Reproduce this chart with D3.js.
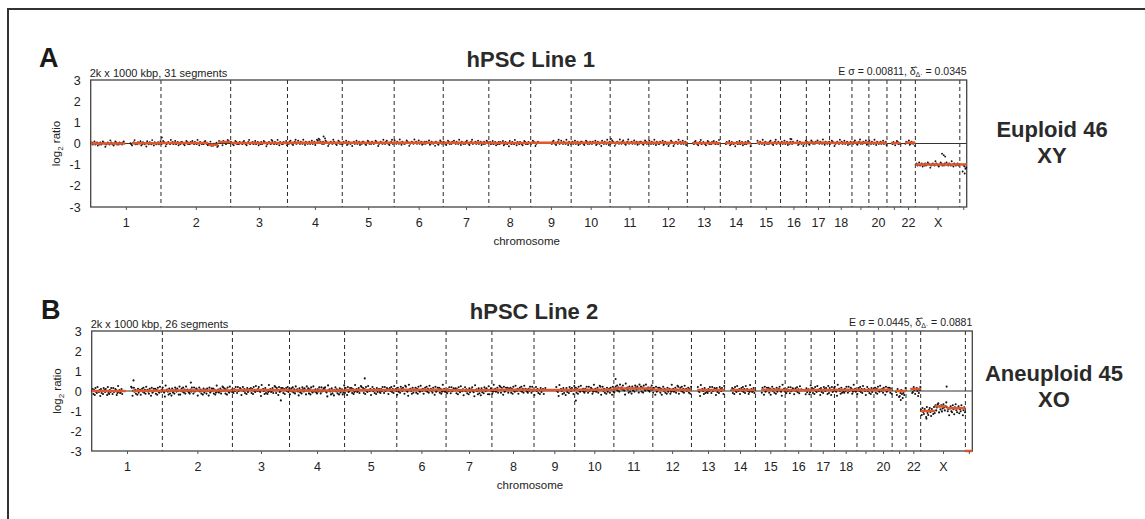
<!DOCTYPE html>
<html>
<head>
<meta charset="utf-8">
<script src="https://cdn.jsdelivr.net/npm/d3@7"></script>
<style>
  body { margin: 0; background: #fff; }
  svg { display: block; font-family: "Liberation Sans", Arial, sans-serif; }
</style>
</head>
<body>
<script>
const width = 1145, height = 519;

// chromosome sizes in Mb, as laid out on the x axis
const chromNames = ['1','2','3','4','5','6','7','8','9','10','11','12','13','14','15','16','17','18','19','20','21','22','X','Y'];
const chromSizes = [245,243,198,191,181,171,159,146,141,136,135,134,115,107,103,90,81,78,59,63,48,51,155,24];
const chromLabels = ['1','2','3','4','5','6','7','8','9','10','11','12','13','14','15','16','17','18','','20','','22','X',''];
const yTicks = [3,2,1,0,-1,-2,-3];

// segments: [chrom (1..24), start Mb, end Mb, log2 ratio]
const segmentsA = [
  [1,0,121,0.0],[1,143,245,0.01],
  [2,0,165,0.02],[2,165,200,-0.06],[2,200,243,0.07],
  [3,0,198,0.02],[4,0,191,0.03],[5,0,181,0.03],[6,0,171,0.04],[7,0,159,0.03],
  [8,0,146,0.02],[9,0,141,0.03],[10,0,136,0.03],[11,0,135,0.04],[12,0,134,0.03],
  [13,18,115,0.02],[14,17,107,0.02],[15,20,103,0.03],[16,0,90,0.03],[17,0,81,0.04],
  [18,0,78,0.03],[19,0,59,0.04],[20,0,63,0.03],[21,14,48,0.02],[22,16,51,0.04],
  [23,0,155,-0.99],[24,0,24,-0.99]
];
const segmentsB = [
  [1,0,118,0.0],[1,142,245,0.01],
  [2,0,243,0.02],[3,0,198,0.05],[4,0,191,0.03],[5,0,181,0.05],[6,0,171,0.06],
  [7,0,159,0.04],[8,0,146,0.06],[9,0,141,0.05],[10,0,136,0.06],[11,0,135,0.12],
  [12,0,134,0.06],[13,20,115,0.05],[14,22,107,0.05],[15,20,103,0.06],[16,0,90,0.04],
  [17,0,81,0.05],[18,0,78,0.06],[19,0,59,0.05],[20,0,63,0.06],[21,12,48,0.0],
  [22,16,51,0.1],
  [23,0,50,-1.0],[23,50,90,-0.77],[23,90,155,-0.86],[24,0,24,-3.0]
];

// binned log2 ratios, one letter per bin, read as offset from the segment: 'k' = 0, each letter step = 0.05; ' ' = no data
const dotsA = [
  'kljkmjklikjljkmlkhjklkjnlkjikmljkjlkkjlm       kjiklnjkjlkkmijlkjkhmkjlkjnkilkjkljkm',
  'jkmlkhjklkjnkljkmjklikjllkjikmljkjlkmkjlkjnkilkjkjlmkjiklnjkjlkkmijlkjkhlkjikmljk',
  'lkjikmljkjlkkjlmkjiklnjkkljkmjklikjljkmlkhjklkjnmkjlkjnkilkjjlkkmi',
  'kjlmkjiklnjkmkjlkjnkilkjkljkmjkliknmonlkjljkmlkhjklkjnlkjikmljkj',
  'jlkkmijlkjkhkljkmjklikjllkjikmljkjlkjkmlkhjklkjnkjlmkjiklnjk',
  'mkjlkjnkilkjjkmlkhjklkjnkljkmjklikjljlkkmijlkjkhlkjikmljk',
  'lkjikmljkjlkmkjlkjnkilkjkjlmkjiklnjkkljkmjklikjljkmlk',
  'kljkmjklikjljlkkmijlkjkhmkjlkjnkilkjlkjikmljkjlkk',
  'jkmlkhjklk             kjlmkjiklnjkmkjlkjnkilkj',
  'kljkmjklikjllkjikmljkjlkjlkkmijlkjkhmkjlkjnkil',
  'jkmlkhjklkjnkjlmkjiklnjkkljkmjklikjllkjikmljkj',
  'mkjlkjnkilkjjlkkmijlkjkhjkmlkhjklkjnkljkmjklik',
  '      kjlmkjiklnjklkjikmljkjlkmkjlkjnk',
  '      jlkkmijlkjkhkljkmjklikjljkmlkh',
  '       mkjlkjnkilkjkjlmkjiklnjklkj',
  'kljkmjklikjlkjl   kmijlkjkhjkm',
  'lkjikmljkjlkmkjlkjnkilkjkl',
  'jkmlkhjklkjnkljkmjklikjlk',
  'kjlmkjiklnjkjlkkmijl',
  'mkjlkjnkilkjkljkmjkli',
  '     kjlkikmljkj',
  '     jlkkmijlkjkh',
  'kljkmjklikjljkmlkhjklkjnlkjikmljkjlkmkjlkjnkilkjkljk',
  '    jigh'
];
const dotsB = [
  'kmhlgnjiokjlfmikhnljmkgoihljnkhnjkmlgipjlijmhk           onfknjlhkgmiklgkmjnilhokljhmkfnijmkmhlgnjiokjl',
  'njiepkljgmhkfmikhnljmkgogkmjnilhokljihljnkhnjkmlfknjlhkgmiklhmkfnijmkmhlgipjlijmhkonkmhlgnjiokjl',
  'ihljnkhnjkmlfknjlhkgmiklkmhlgnjiokjlnjiepkljgmhkgipjlijmhkonhmkfnijmkmhlgkmjnil',
  'gkmjnilhokljfmikhnljmkgokmhlgnjiokjlihljnkhnjkmlnjiepkljgmhkfknjlhkgmiklgip',
  'hmkfnijmkmhlgipjlijmhkonkmhlgnjiokjlfknjlhkgmiklihljnkhnjkmlgkmjnilhoklj',
  'fmikhnljmkgonjiepkljgmhkkmhlgnjiokjlgkmjnilhokljhmkfnijmkmhlgipjlij',
  'ihljnkhnjkmlkmhlgnjiokjlfknjlhkgmiklnjiepkljgmhkfmikhnljmkgogkmj',
  'gipjlijmhkonhmkfnijmkmhlkmhlgnjiokjlgkmjnilhokljihljnkhnjk',
  'fknjlhkgmiklgkm             njiepkljgmhkfmikhnljmkgo',
  'kmhlgnjiokjlihljnkhnjkmlgipjlijmhkonfknjlhkgmiklhmkfni',
  'gkmjnilhokljnjiepkljgmhkfmikhnljmkgokmhlgnjiokjlihljnk',
  'hmkfnijmkmhlfknjlhkgmiklgipjlijmhkongkmjnilhokljkmhlgn',
  '        njiepkljgmhkihljnkhnjkmlfmikhnljmkgo',
  '         kmhlgnjiokjlgkmjnilhokljgipjlijmhk',
  '        hmkfnijmkmhlfknjlhkgmiklnjiepklj',
  'ihljnkhnjkmlgkmjnilhokl    kgmiklgip',
  'kmhlgnjiokjlfmikhnljmkgohmkfnijm',
  'njiepkljgmhkihljnkhnjkmlgipjlij',
  'gkmjnilhokljfknjlhkgmikl',
  'kmhlgnjiokjlhmkfnijmkmhlg',
  '     jgmkefilhdigkn',
  '       kghmjfklidgjm',
  'lgnjhmkeoiglnjfmkhoilgjmnekhlfimjgkolhjdkmhgnjeloigkmfjhnkdilg',
  ''
];
// single points standing apart from the band: [chrom, Mb, log2 ratio]
const extraA = [[2,3,0.28],[4,126,0.33],[4,131,0.24],[11,3,0.22],[16,34,0.22],[16,38,0.2],
  [23,93,-0.48],[23,99,-0.55],[23,104,-0.62],[24,10,-1.32],[24,17,-1.42]];
const extraB = [[1,145,0.53],[2,99,0.42],[3,168,-0.47],[5,70,0.63],[10,4,-0.48],[11,6,0.6],
  [21,30,-0.45],[23,90,0.22],[23,20,-1.38]];

const panels = [
  {letter: 'A', title: 'hPSC Line 1', info: '2k x 1000 kbp, 31 segments', sigma: '0.00811', delta: '0.0345',
   call: ['Euploid 46', 'XY'], segments: segmentsA, dots: dotsA, extra: extraA,
   left: 90.7, right: 966.7, top: 80, bottom: 207, titleY: 67, letterX: 39, callX: 1052, callY: 136.7, dotR: 0.95},
  {letter: 'B', title: 'hPSC Line 2', info: '2k x 1000 kbp, 26 segments', sigma: '0.0445', delta: '0.0881',
   call: ['Aneuploid 45', 'XO'], segments: segmentsB, dots: dotsB, extra: extraB,
   left: 91.7, right: 972.3, top: 331, bottom: 451, titleY: 319, letterX: 41, callX: 1054, callY: 380.7, dotR: 1.05}
];

const offsets = [0, ...d3.cumsum(chromSizes)];
const total = offsets[offsets.length - 1];

const svg = d3.select('body').append('svg').attr('width', width).attr('height', height);

// outer box (only top and left edges in view)
svg.append('path').attr('d', `M8,${height} V9 H${width}`)
  .attr('fill', 'none').attr('stroke', '#333').attr('stroke-width', 2);

function segValue(segs, c, pos) {
  let best = null, bd = Infinity;
  segs.filter(s => s[0] === c).forEach(s => {
    const d = pos < s[1] ? s[1] - pos : pos > s[2] ? pos - s[2] : 0;
    if (d < bd) { bd = d; best = s; }
  });
  return best ? best[3] : 0;
}

panels.forEach(p => {
  const x = d3.scaleLinear().domain([0, total]).range([p.left, p.right]);
  const y = d3.scaleLinear().domain([-3, 3]).range([p.bottom, p.top]);
  const gx = (c, pos) => x(offsets[c - 1] + pos);
  const g = svg.append('g');

  // letter + title
  g.append('text').attr('x', p.letterX).attr('y', p.titleY)
    .attr('font-size', 27).attr('font-weight', 'bold').attr('fill', '#1a1a1a').text(p.letter);
  g.append('text').attr('x', (p.left + p.right) / 2 + 2).attr('y', p.titleY)
    .attr('text-anchor', 'middle').attr('font-size', 22).attr('font-weight', 'bold').attr('fill', '#2a2a2a').text(p.title);

  g.append('text').attr('x', p.left - 1).attr('y', p.top - 3)
    .attr('font-size', 11).attr('fill', '#222').text(p.info);

  const st = g.append('text').attr('x', p.right).attr('y', p.top - 5)
    .attr('text-anchor', 'end').attr('font-size', 10.5).attr('fill', '#222');
  st.append('tspan').text(`E \u03c3 = ${p.sigma}, \u03b4\u0302`);
  st.append('tspan').attr('font-size', 7).attr('dy', 2).text('\u0394\u00b7');
  st.append('tspan').attr('dy', -2).text(` = ${p.delta}`);

  // chromosome borders
  g.append('g').selectAll('line').data(offsets.slice(1, -1)).join('line')
    .attr('x1', d => x(d)).attr('x2', d => x(d))
    .attr('y1', p.top).attr('y2', p.bottom)
    .attr('stroke', '#2a2a2a').attr('stroke-width', 1).attr('stroke-dasharray', '4,3');

  // zero line
  g.append('line').attr('x1', p.left).attr('x2', p.right).attr('y1', y(0)).attr('y2', y(0))
    .attr('stroke', '#333').attr('stroke-width', 1);

  // frame
  g.append('rect').attr('x', p.left).attr('y', p.top)
    .attr('width', p.right - p.left).attr('height', p.bottom - p.top)
    .attr('fill', 'none').attr('stroke', '#444').attr('stroke-width', 1.3);

  // binned points
  const pts = [];
  p.dots.forEach((str, i) => {
    const n = str.length;
    [...str].forEach((ch, j) => {
      if (ch === ' ') return;
      const pos = (j + 0.5) * chromSizes[i] / n;
      pts.push([i + 1, pos, segValue(p.segments, i + 1, pos) + (ch.charCodeAt(0) - 107) * 0.05]);
    });
  });
  p.extra.forEach(e => pts.push(e));
  g.append('g').selectAll('circle').data(pts.filter(d => d[2] >= -3 && d[2] <= 3)).join('circle')
    .attr('cx', d => gx(d[0], d[1])).attr('cy', d => y(d[2]))
    .attr('r', p.dotR).attr('fill', '#111');

  // segment means
  g.append('g').selectAll('line').data(p.segments).join('line')
    .attr('x1', d => gx(d[0], d[1])).attr('x2', d => gx(d[0], d[2]))
    .attr('y1', d => y(d[3])).attr('y2', d => y(d[3]))
    .attr('stroke', '#e2562b').attr('stroke-width', 2.5);

  // axes
  const ya = g.append('g').attr('transform', `translate(${p.left},0)`)
    .call(d3.axisLeft(y).tickValues(yTicks).tickFormat(d => String(d)).tickSize(0).tickPadding(10));
  ya.select('.domain').remove();
  ya.selectAll('text').attr('font-size', 12.5).attr('fill', '#222').attr('font-family', null);

  const centers = chromSizes.map((s, i) => offsets[i] + s / 2);
  const xa = g.append('g').attr('transform', `translate(0,${p.bottom})`)
    .call(d3.axisBottom(x).tickValues(centers).tickFormat((d, i) => chromLabels[i])
      .tickSizeInner(3).tickSizeOuter(0).tickPadding(8));
  xa.select('.domain').remove();
  xa.selectAll('line').attr('stroke', '#555');
  xa.selectAll('text').attr('font-size', 12.5).attr('fill', '#222').attr('font-family', null);

  g.append('text').attr('x', (p.left + p.right) / 2 - 2).attr('y', p.bottom + 38)
    .attr('text-anchor', 'middle').attr('font-size', 11.5).attr('fill', '#222').text('chromosome');

  const yl = g.append('text').attr('transform', `translate(${p.left - 31},${y(0)}) rotate(-90)`)
    .attr('text-anchor', 'middle').attr('font-size', 11.5).attr('fill', '#222');
  yl.append('tspan').text('log');
  yl.append('tspan').attr('font-size', 8).attr('dy', 3).text('2');
  yl.append('tspan').attr('dy', -3).text(' ratio');

  // karyotype call
  p.call.forEach((t, i) => {
    g.append('text').attr('x', p.callX).attr('y', p.callY + i * 26.5)
      .attr('text-anchor', 'middle').attr('font-size', 22).attr('font-weight', 'bold')
      .attr('fill', '#2a2a2a').text(t);
  });
});
</script>
</body>
</html>
